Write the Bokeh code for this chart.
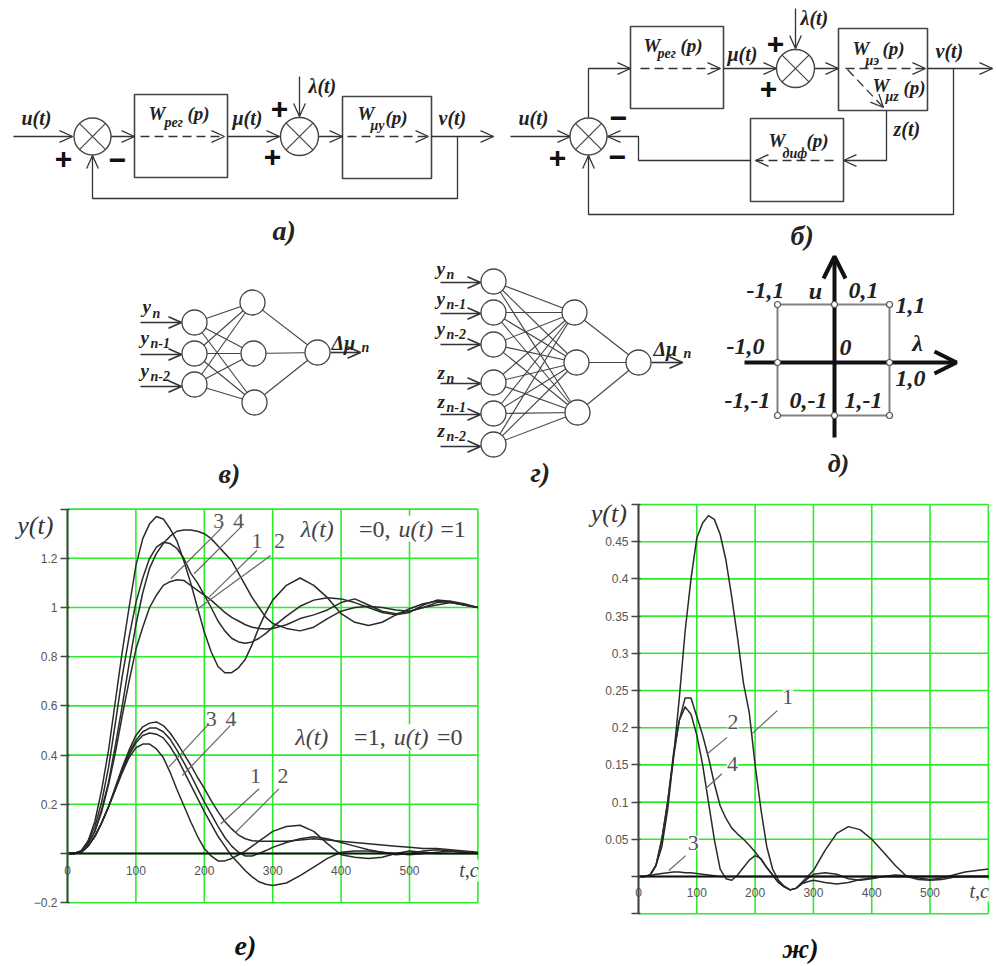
from itertools import product
from bokeh.plotting import figure
from bokeh.layouts import column, row
from bokeh.models import FixedTicker, Label
from bokeh.core.properties import value
from bokeh.embed import file_html
from bokeh.resources import INLINE

# ---------------- chart data ----------------
t = list(range(0, 300, 10)) + list(range(300, 601, 20))
u_curve_a = [0, 0, .01, .05, .13, .26, .42, .62, .82, 1.0, 1.17, 1.28, 1.34, 1.37, 1.36, 1.32, 1.27, 1.19, 1.10, 1.0, .90, .82, .76, .735, .735, .755, .79, .85, .92, .98, 1.03,
             1.09, 1.12, 1.09, 1.04, .975, .94, .927, .94, .97, .995, 1.015, 1.025, 1.02, 1.01, 1.0]
u_curve_b = [0, 0, .01, .04, .09, .18, .29, .44, .60, .77, .93, 1.06, 1.16, 1.22, 1.26, 1.29, 1.31, 1.315, 1.315, 1.31, 1.30, 1.28, 1.25, 1.22, 1.19, 1.14, 1.09, 1.04, 1.0, .96, .935,
             .915, .905, .92, .955, .985, 1.0, 1.005, 1.0, .99, .985, 1.0, 1.02, 1.025, 1.015, 1.0]
u_curve_c = [0, 0, .01, .05, .11, .21, .35, .53, .72, .88, 1.02, 1.12, 1.20, 1.245, 1.265, 1.26, 1.24, 1.20, 1.14, 1.10, 1.05, 1.0, .945, .905, .875, .86, .855, .86, .875, .895, .92,
             .965, 1.005, 1.03, 1.04, 1.035, 1.02, 1.0, .98, .97, .98, 1.01, 1.03, 1.025, 1.01, 1.0]
u_curve_d = [0, 0, .01, .04, .09, .17, .28, .41, .56, .70, .83, .92, 1.0, 1.05, 1.09, 1.105, 1.113, 1.11, 1.09, 1.07, 1.05, 1.03, 1.005, .98, .96, .945, .93, .92, .915, .913, .915,
             .93, .955, .97, .99, 1.02, 1.035, 1.01, .985, .975, .985, 1.0, 1.01, 1.02, 1.01, 1.0]
l_curve_1 = [0, .001, .005, .03, .07, .125, .19, .27, .35, .42, .48, .515, .53, .535, .52, .49, .45, .405, .36, .31, .265, .215, .17, .13, .10, .075, .06, .052, .05, .05, .05,
             .05, .055, .06, .055, .05, .045, .04, .035, .03, .025, .02, .02, .015, .01, .005]
l_curve_2 = [0, .001, .005, .03, .07, .125, .19, .265, .34, .41, .46, .495, .51, .51, .495, .465, .42, .37, .32, .265, .21, .16, .11, .065, .03, .005, -.01, -.01, 0, .012, .025,
             .045, .06, .068, .06, .045, .03, .015, .005, -.005, 0, .01, .015, .01, .005, 0]
l_curve_3 = [0, .001, .005, .03, .07, .125, .19, .26, .33, .40, .45, .48, .49, .485, .47, .435, .39, .335, .28, .225, .17, .12, .07, .03, -.01, -.04, -.07, -.095, -.115, -.125, -.13,
             -.12, -.09, -.055, -.02, .005, .01, .01, .005, 0, -.005, 0, .005, .01, .005, 0]
l_curve_4 = [0, .001, .005, .03, .07, .125, .19, .26, .33, .39, .43, .445, .445, .425, .39, .33, .26, .195, .13, .07, .02, -.01, -.03, -.03, -.02, -.005, .01, .03, .05, .07, .09,
             .11, .115, .09, .04, -.005, -.015, -.02, -.015, 0, .01, .005, 0, 0, 0, 0]
g_curve_1 = [0, 0, .002, .015, .04, .09, .16, .24, .33, .40, .455, .475, .485, .48, .46, .425, .375, .32, .26, .22, .15, .09, .04, .01, -.005, -.013, -.018, -.016, -.01, -.003, .003,
             .005, .003, -.003, -.005, -.003, 0, .002, .001, -.002, -.004, -.002, .002, .006, .008, .01]
g_curve_2 = [0, 0, .002, .015, .05, .10, .16, .21, .24, .24, .215, .19, .16, .125, .095, .078, .065, .057, .05, .042, .033, .023, .012, .002, -.008, -.014, -.018, -.016, -.01, -.007, -.005,
             -.008, -.01, -.008, -.004, -.002, 0, 0, 0, 0, 0, 0, 0, 0, 0, 0]
g_curve_3 = [0, 0, .001, .003, .004, .005, .006, .006, .005, .005, .004, .003, .002, .001, 0, 0, 0, 0, 0, 0, 0, 0, 0, 0, 0, 0, 0, 0, 0, 0, 0,
             0, 0, 0, 0, 0, 0, 0, 0, 0, 0, 0, 0, 0, 0, 0]
g_curve_4 = [0, 0, .002, .015, .05, .10, .165, .21, .228, .218, .19, .15, .10, .05, .01, -.003, -.005, .002, .012, .022, .028, .024, .012, .002, -.008, -.014, -.018, -.016, -.008, 0, .008,
             .035, .058, .067, .063, .05, .033, .015, 0, -.004, -.005, -.004, -.001, 0, 0, 0]

x_ticks = [0, 100, 200, 300, 400, 500, 600]
y_ticks_left = [-.2, 0, .2, .4, .6, .8, 1, 1.2, 1.4]
y_ticks_right = [-.05, 0, .05, .1, .15, .2, .25, .3, .35, .4, .45, .5]

left_leaders = [([226, 151], [1.326, 1.117]), ([253, 185], [1.326, 1.137]), ([277, 207], [1.232, 1.042]), ([297, 187], [1.211, .988]),
                ([207, 148], [.528, .351]), ([238, 168], [.52, .317]), ([280, 224], [.263, .12]), ([309, 246], [.263, .087])]
left_numbers = [(221, 1.353, "3"), (250, 1.353, "4"), (277, 1.272, "1"), (310, 1.272, "2"),
                (210, .547, "3"), (239, .547, "4"), (275, .317, "1"), (315, .317, "2")]
right_leaders = [([238, 195], [.223, .192]), ([152, 118], [.187, .165]), ([143, 115], [.138, .118]), ([81, 52], [.028, .008])]
right_numbers = [(256, .241, "1"), (162, .207, "2"), (161, .151, "4"), (94, .045, "3")]

GREEN = "#2bee2b"
INK = "#2a2a2a"


def make_chart(width, height, xr, yr, yticks, hide, curves):
    p = figure(width=width, height=height, x_range=xr, y_range=yr, output_backend="svg", toolbar_location=None,
               min_border=0, outline_line_color=None)
    p.grid.visible = False
    y0, y1 = yticks[0], yticks[-1]
    p.segment(x_ticks, [y0] * len(x_ticks), x_ticks, [y1] * len(x_ticks), line_color=GREEN, line_width=1.6)
    p.segment([0] * len(yticks), yticks, [600] * len(yticks), yticks, line_color=GREEN, line_width=1.6)
    p.xaxis.ticker = FixedTicker(ticks=x_ticks)
    p.yaxis.ticker = FixedTicker(ticks=yticks)
    p.xaxis.fixed_location = 0
    p.yaxis.fixed_location = 0
    p.xaxis.bounds = (0, 600)
    p.yaxis.bounds = (y0, y1)
    p.xaxis.major_label_overrides = {600: ""}
    p.yaxis.major_label_overrides = {v: "" for v in hide}
    for ax in (p.xaxis[0], p.yaxis[0]):
        ax.major_label_text_font = "Liberation Sans"
        ax.major_label_text_font_size = "12px"
        ax.major_label_text_color = "#555555"
        ax.minor_tick_line_color = None
    p.xaxis.axis_line_color = "#111111"
    p.xaxis.axis_line_width = 2
    p.xaxis.major_tick_line_color = None
    p.xaxis.major_label_standoff = 6
    p.yaxis.axis_line_color = "#444444"
    p.yaxis.axis_line_width = 2
    p.yaxis.major_tick_line_color = "#444444"
    p.yaxis.major_tick_line_width = 1.5
    p.yaxis.major_tick_out = 7
    p.yaxis.major_tick_in = 2
    p.yaxis.major_label_standoff = 3
    for c in curves:
        p.line(t, c, line_color=INK, line_width=1.5, line_join="round")
    return p


def note(p, x, y, text, size, color="#444444", style="italic", font="Liberation Serif", align="left", bg=True):
    p.add_layout(Label(x=x, y=y, text=text, text_font=font, text_font_size=f"{size}px", text_font_style=style,
                       text_color=color, text_align=align, text_baseline="middle",
                       background_fill_color="white" if bg else None))


left_chart = make_chart(500, 476, (-97.95, 633.0), (-.4593, 1.4756), y_ticks_left, [0, 1.4],
                        [u_curve_a, u_curve_b, u_curve_c, u_curve_d, l_curve_1, l_curve_2, l_curve_3, l_curve_4])
for xs, ys in left_leaders:
    left_chart.line(xs, ys, line_color="#666666", line_width=1.2)
for x, y, s in left_numbers:
    note(left_chart, x, y, s, 22, "#555555", "normal", align="center", bg=False)
for x, y, s, st in [(341, 1.32, "λ(t)", "italic"), (426, 1.32, "=0,", "normal"), (484, 1.32, "u(t)", "italic"), (545, 1.32, "=1", "normal"),
                    (333, .473, "λ(t)", "italic"), (419, .473, "=1,", "normal"), (477, .473, "u(t)", "italic"), (540, .473, "=0", "normal")]:
    note(left_chart, x, y, s, 24, "#444444", st)
note(left_chart, 601, -.069, "t,c", 20, align="right")
note(left_chart, -47, 1.333, "y(t)", 26, "#333333", bg=False, align="center")
note(left_chart, 260, -.374, "е)", 28, "#111111", "bold italic", align="center", bg=False)

right_chart = make_chart(496, 476, (-236.7, 614.0), (-.121, .5188), y_ticks_right, [-.05, 0, .5],
                         [g_curve_1, g_curve_2, g_curve_3, g_curve_4])
for xs, ys in right_leaders:
    right_chart.line(xs, ys, line_color="#666666", line_width=1.2)
for x, y, s in right_numbers:
    note(right_chart, x, y, s, 22, "#555555", "normal", align="center")
note(right_chart, 601, -.019, "t,c", 20, align="right")
note(right_chart, -51, .488, "y(t)", 26, "#333333", bg=False, align="center")
note(right_chart, 278, -.097, "ж)", 28, "#111111", "bold italic", align="center", bg=False)

# ---------------- diagrams (coordinates in page pixels) ----------------
boxes = [(134, 94, 227, 177), (342, 96, 431, 178), (630, 26, 723, 108), (838, 28, 927, 110), (750, 118, 843, 201)]
summers = [(92, 136, 18.5), (299, 136, 19), (588, 136, 18.5), (795, 68, 19)]
solid_arrows = [
    [(13, 136), (72, 136)], [(110, 136), (134, 136)], [(227, 136), (279, 136)], [(299, 76), (299, 116)],
    [(318, 136), (342, 136)], [(431, 136), (493, 136)], [(457, 136), (457, 198), (92, 198), (92, 155)],
    [(510, 136), (570, 136)], [(588, 117), (588, 68), (630, 68)], [(723, 68), (776, 68)], [(795, 8), (795, 48)],
    [(814, 68), (838, 68)], [(927, 68), (992, 68)], [(886, 110), (886, 160), (843, 160)],
    [(750, 160), (638, 160), (638, 136), (607, 136)], [(953, 68), (953, 214), (588, 214), (588, 155)],
]
dashed_arrows = [
    [(140, 136), (224, 136)], [(347, 136), (428, 136)], [(640, 68), (720, 68)], [(845, 68), (925, 68)],
    [(847, 69), (883, 107)], [(833, 160), (755, 160)],
]
net_a = ([(194, 322), (194, 353), (194, 384)], [(252, 302), (253, 353), (254, 402)], (317, 352))
net_b = ([(493, 281), (493, 312), (493, 344), (493, 382), (493, 413), (493, 444)], [(574, 312), (576, 362), (577, 412)], (638, 362))
net_arrows = [[(140, 322), (181, 322)], [(140, 354), (181, 354)], [(140, 386), (181, 386)], [(330, 352), (360, 352)],
              [(440, 282), (480, 282)], [(440, 313), (480, 313)], [(440, 344), (480, 344)], [(440, 383), (480, 383)],
              [(440, 414), (480, 414)], [(440, 446), (480, 446)], [(651, 362), (682, 362)]]
square = [(777, 304), (889, 304), (889, 415), (777, 415), (777, 304)]
square_nodes = [(777, 304), (834, 304), (889, 304), (777, 362), (889, 362), (777, 415), (834, 415), (889, 415)]
bold_axes = [[(744, 362), (956, 362)], [(834, 437), (834, 256)]]

SERIF = "Liberation Serif"
BI = "bold italic"
labels = [
    # x, y, text, size
    (21, 117, "u(t)", 20), (232, 117, "μ(t)", 20), (308, 85, "λ(t)", 20), (438, 117, "v(t)", 20),
    (148, 113, "W", 19), (164, 122, "рег", 14), (187, 113, "(p)", 19),
    (357, 113, "W", 19), (370, 125, "μу", 14), (385, 117, "(p)", 19), (272, 230, "а)", 28),
    (518, 117, "u(t)", 20), (727, 53, "μ(t)", 20), (800, 17, "λ(t)", 20), (935, 50, "v(t)", 20), (893, 128, "z(t)", 20),
    (643, 45, "W", 19), (657, 53, "рег", 14), (680, 45, "(p)", 19),
    (852, 48, "W", 19), (865, 60, "μэ", 14), (882, 48, "(p)", 19),
    (872, 85, "W", 19), (885, 96, "μz", 14), (903, 87, "(p)", 19),
    (768, 140, "W", 19), (782, 153, "диф", 14), (806, 140, "(p)", 19), (790, 235, "б)", 28),
    (142, 306, "y", 19), (152, 313, "n", 14), (140, 337, "y", 19), (150, 343, "n-1", 14), (140, 370, "y", 19), (150, 376, "n-2", 14),
    (331, 342, "Δμ", 20), (361, 347, "n", 14), (218, 473, "в)", 28),
    (436, 268, "y", 19), (446, 274, "n", 14), (436, 298, "y", 19), (446, 304, "n-1", 14), (436, 328, "y", 19), (446, 334, "n-2", 14),
    (437, 372, "z", 19), (446, 378, "n", 14), (437, 401, "z", 19), (446, 407, "n-1", 14), (437, 430, "z", 19), (446, 436, "n-2", 14),
    (653, 348, "Δμ", 20), (683, 353, "n", 14), (530, 472, "г)", 28),
]
grid_labels = [
    (765, 290, "-1,1"), (815, 290, "u"), (863, 290, "0,1"), (910, 305, "1,1"), (745, 346, "-1,0"), (845, 347, "0"),
    (917, 342, "λ"), (910, 378, "1,0"), (747, 400, "-1,-1"), (808, 400, "0,-1"), (863, 400, "1,-1"),
]
signs = [(63, 158, "+"), (117, 159, "−"), (279, 108, "+"), (272, 156, "+"), (557, 157, "+"), (618, 117, "−"),
         (617, 156, "−"), (775, 43, "+"), (768, 88, "+")]

top = figure(width=996, height=490, x_range=(0, 996), y_range=(490, 0), output_backend="svg", toolbar_location=None,
             min_border=0, outline_line_color=None)
top.axis.visible = False
top.grid.visible = False


def head(a, b, size=13, spread=0.45):
    dx, dy = b[0] - a[0], b[1] - a[1]
    n = (dx * dx + dy * dy) ** .5
    ux, uy = dx / n, dy / n
    return ([b[0] - size * ux - size * spread * uy, b[0], b[0] - size * ux + size * spread * uy],
            [b[1] - size * uy + size * spread * ux, b[1], b[1] - size * uy - size * spread * ux])


def draw_arrows(paths, color="#333333", width=1.3, dash="solid"):
    top.multi_line([[q[0] for q in path] for path in paths], [[q[1] for q in path] for path in paths],
                   line_color=color, line_width=width, line_dash=dash)
    hs = [head(path[-2], path[-1]) for path in paths]
    top.multi_line([h[0] for h in hs], [h[1] for h in hs], line_color=color, line_width=width)


top.quad(left=[b[0] for b in boxes], top=[b[1] for b in boxes], right=[b[2] for b in boxes], bottom=[b[3] for b in boxes],
         fill_color="white", line_color="#444444", line_width=1.6)
draw_arrows(solid_arrows)
draw_arrows(dashed_arrows, dash="9 5")
draw_arrows(net_arrows, width=1.6)

for cx, cy, r in summers:
    top.scatter([cx], [cy], size=2 * r, marker="circle", fill_color="white", line_color="#444444", line_width=1.4)
    k = r * .707
    top.multi_line([[cx - k, cx + k], [cx - k, cx + k]], [[cy - k, cy + k], [cy + k, cy - k]], line_color="#444444", line_width=1.2)

for inputs, hidden, out in (net_a, net_b):
    edges = [(a, b) for a, b in product(inputs, hidden)] + [(b, out) for b in hidden]
    top.multi_line([[a[0], b[0]] for a, b in edges], [[a[1], b[1]] for a, b in edges], line_color="#444444", line_width=1.1)
    nodes = inputs + hidden + [out]
    top.scatter([q[0] for q in nodes], [q[1] for q in nodes], size=25, marker="circle", fill_color="white",
                line_color="#444444", line_width=1.3)

top.line([q[0] for q in square], [q[1] for q in square], line_color="#808080", line_width=2)
for path in bold_axes:
    top.line([q[0] for q in path], [q[1] for q in path], line_color="#111111", line_width=4)
    h = head(path[0], path[1], size=22, spread=.5)
    top.line(h[0], h[1], line_color="#111111", line_width=4)
top.scatter([q[0] for q in square_nodes], [q[1] for q in square_nodes], size=6, marker="circle", fill_color="white",
            line_color="#555555", line_width=1.2)

for size in sorted({q[3] for q in labels}):
    rows = [q for q in labels if q[3] == size]
    top.text([q[0] for q in rows], [q[1] for q in rows], text=[q[2] for q in rows], text_font=value(SERIF),
             text_font_style=BI, text_font_size=f"{size}px", text_color="#222222", text_baseline="middle")
top.text([q[0] for q in grid_labels], [q[1] for q in grid_labels], text=[q[2] for q in grid_labels], text_font=value(SERIF),
         text_font_style=BI, text_font_size="24px", text_color="#222222", text_baseline="middle", text_align="center")
top.text([838], [463], text=["д)"], text_font=value(SERIF), text_font_style=BI, text_font_size="26px",
         text_color="#222222", text_baseline="middle", text_align="center")
top.text([q[0] for q in signs], [q[1] for q in signs], text=[q[2] for q in signs], text_font=value("Liberation Sans"),
         text_font_style="bold", text_font_size="30px", text_color="#111111", text_baseline="middle", text_align="center")

page = column(top, row(left_chart, right_chart))
open("out.html", "w").write(file_html(page, INLINE))
